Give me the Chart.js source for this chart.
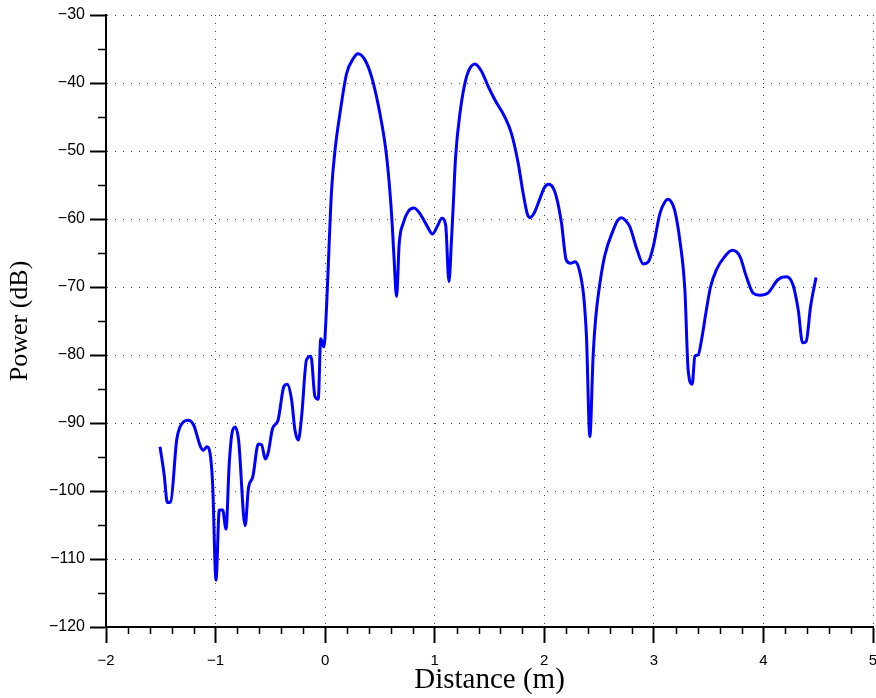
<!DOCTYPE html>
<html>
<head>
<meta charset="utf-8">
<script src="https://cdn.jsdelivr.net/npm/chart.js@4/dist/chart.umd.min.js"></script>
<style>
  html, body { margin: 0; padding: 0; background: #fff; }
  #wrap { width: 876px; height: 698px; }
</style>
</head>
<body>
<div id="wrap"><canvas id="grafico" width="876" height="698"></canvas></div>
<script>
// Datos
const distancia = [
  -1.507, -1.47, -1.44, -1.41, -1.355, -1.325, -1.29, -1.25, -1.2, -1.17,
  -1.14, -1.11, -1.08, -1.05, -1.027, -0.996, -0.966, -0.935, -0.905, -0.875,
  -0.85, -0.82, -0.79, -0.73, -0.70, -0.66, -0.61, -0.58, -0.546, -0.52,
  -0.48, -0.43, -0.376, -0.346, -0.306, -0.276, -0.245, -0.215, -0.17, -0.13,
  -0.093, -0.063, -0.04, -0.011, 0.013, 0.038, 0.059, 0.09, 0.135, 0.196,
  0.257, 0.30, 0.363, 0.424, 0.5, 0.561, 0.606, 0.628, 0.652, 0.676,
  0.713, 0.758, 0.81, 0.865, 0.926, 0.98, 1.023, 1.065, 1.10, 1.13,
  1.153, 1.17, 1.19, 1.23, 1.29, 1.367, 1.428, 1.488, 1.55, 1.64,
  1.70, 1.762, 1.807, 1.844, 1.868, 1.905, 1.96, 2.0, 2.04, 2.08, 2.11,
  2.157, 2.2, 2.24, 2.28, 2.32, 2.36, 2.385, 2.416, 2.446, 2.47,
  2.507, 2.553, 2.63, 2.67, 2.705, 2.74, 2.78, 2.848, 2.903, 2.95, 2.994, 3.055,
  3.1, 3.13, 3.16, 3.19, 3.237, 3.283, 3.313, 3.35, 3.374, 3.404, 3.435, 3.474,
  3.517, 3.57, 3.648, 3.717, 3.785, 3.845, 3.906, 3.967, 4.04, 4.134,
  4.21, 4.27, 4.318, 4.357, 4.39, 4.43, 4.48
];
const potencia = [
  -93.5, -97.5, -101.7, -101.6, -92.5, -90.6, -89.8, -89.6, -90.3, -91.8,
  -93.4, -94.0, -93.5, -94.5, -98.9, -113.1, -102.8, -102.8, -105.6, -95.9,
  -91.5, -90.6, -92.5, -105.1, -99.6, -97.9, -93.1, -93.2, -95.3, -94.4,
  -90.8, -89.6, -84.6, -84.3, -86.6, -91.0, -92.5, -89.1, -80.7, -80.2,
  -86.1, -86.5, -77.6, -78.8, -72.9, -63.1, -55.7, -49.9, -44.5, -38.6,
  -36.4, -35.7, -36.6, -39.1, -44.5, -50.8, -59.2, -65.5, -71.4, -63.6,
  -60.6, -58.9, -58.4, -59.2, -60.9, -62.2, -61.1, -59.9, -60.9, -69.2,
  -63.1, -57.7, -51.0, -44.5, -39.1, -37.2, -38.3, -40.5, -42.5, -45.0,
  -47.4, -51.8, -56.2, -59.2, -59.8, -59.2, -57.0, -55.4, -54.9, -55.4, -56.7,
  -60.6, -66.0, -66.5, -66.3, -67.5, -71.4, -77.3, -92.0, -80.0, -74.4,
  -69.5, -65.3, -61.6, -60.2, -59.8, -60.2, -61.1, -64.6, -66.6, -66.3, -64.1, -59.2,
  -57.5, -57.1, -57.5, -58.7, -63.1, -70.4, -82.2, -84.3, -80.2, -80.0, -77.8, -73.9,
  -70.0, -67.5, -65.5, -64.6, -65.5, -68.5, -70.9, -71.2, -70.9, -68.9,
  -68.5, -69.7, -73.4, -78.2, -78.0, -72.9, -68.6
];
const ticksX = [-2, -1, 0, 1, 2, 3, 4, 5];
const ticksY = [-120, -110, -100, -90, -80, -70, -60, -50, -40, -30];

const puntos = distancia.map((d, i) => ({ x: d, y: potencia[i] }));

function conMenos(v) {
  return v < 0 ? "\u2212" + Math.abs(v) : String(v);
}

// Marcas menores en los ejes (0.2 m y 5 dB)
const marcasMenores = {
  id: "marcasMenores",
  afterDraw(chart) {
    const ctx = chart.ctx;
    const sx = chart.scales.x, sy = chart.scales.y;
    ctx.save();
    ctx.strokeStyle = "#000";
    ctx.lineWidth = 1.5;
    ctx.beginPath();
    for (let i = 0; i <= 35; i++) {
      if (i % 5 === 0) continue;
      const px = Math.round(sx.getPixelForValue(-2 + i * 0.2)) + 0.5;
      ctx.moveTo(px, sy.bottom);
      ctx.lineTo(px, sy.bottom + 7);
    }
    for (let v = -115; v <= -35; v += 10) {
      const py = Math.round(sy.getPixelForValue(v)) + 0.5;
      ctx.moveTo(sx.left, py);
      ctx.lineTo(sx.left - 8, py);
    }
    ctx.stroke();
    ctx.restore();
  }
};

const fuenteX = { family: "'Liberation Sans', Arial, sans-serif", size: 15 };
const fuenteY = { family: "'Liberation Sans', Arial, sans-serif", size: 16 };
const rejilla = {
  color: "#444", lineWidth: 1,
  tickLength: 16, tickColor: "#000", tickWidth: 2, tickBorderDash: []
};
const borde = { display: true, color: "#000", width: 2, dash: [1, 7] };

new Chart(document.getElementById("grafico").getContext("2d"), {
  type: "line",
  data: {
    datasets: [{
      data: puntos,
      borderColor: "#0000ff",
      borderWidth: 3,
      pointRadius: 0,
      cubicInterpolationMode: "monotone",
      fill: false
    }]
  },
  options: {
    responsive: false,
    animation: false,
    devicePixelRatio: 1,
    layout: { padding: { top: 15, right: 3, left: 0, bottom: 0 } },
    plugins: { legend: { display: false }, tooltip: { enabled: false } },
    scales: {
      x: {
        type: "linear",
        min: -2, max: 5,
        afterBuildTicks: (s) => { s.ticks = ticksX.map(v => ({ value: v })); },
        afterFit: (s) => { s.height = 71; s.paddingLeft = 0; s.paddingRight = 0; },
        ticks: { callback: conMenos, font: fuenteX, color: "#000", padding: 9, maxRotation: 0 },
        grid: rejilla,
        border: borde,
        title: {
          display: true, text: "Distance (m)", color: "#000", padding: { top: 0, bottom: 0 },
          font: { family: "'Liberation Serif', 'Times New Roman', serif", size: 29 }
        }
      },
      y: {
        min: -120, max: -30,
        afterBuildTicks: (s) => { s.ticks = ticksY.map(v => ({ value: v })); },
        afterFit: (s) => { s.width = 106; s.paddingTop = 0; s.paddingBottom = 0; },
        ticks: { callback: conMenos, font: fuenteY, color: "#000", padding: 5 },
        grid: rejilla,
        border: borde,
        title: {
          display: true, text: "Power (dB)", color: "#000", padding: { top: 5, bottom: 0 },
          font: { family: "'Liberation Serif', 'Times New Roman', serif", size: 26 }
        }
      }
    }
  },
  plugins: [marcasMenores]
});
</script>
</body>
</html>
